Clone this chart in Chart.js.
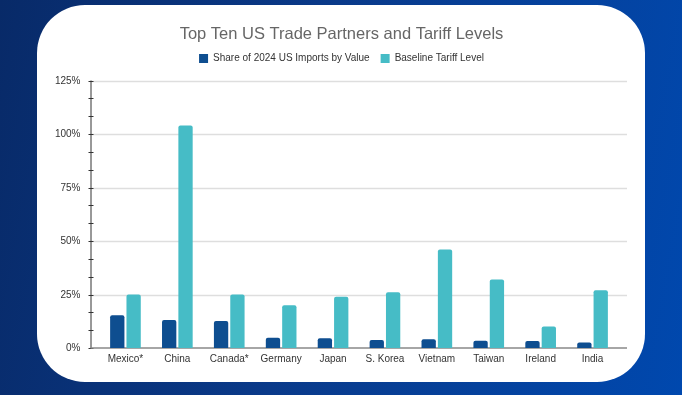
<!DOCTYPE html>
<html>
<head>
<meta charset="utf-8">
<script src="https://cdn.jsdelivr.net/npm/chart.js@4.4.1/dist/chart.umd.min.js"></script>
<style>
  html, body { margin: 0; padding: 0; }
  body {
    width: 682px; height: 395px; overflow: hidden; position: relative;
    background: linear-gradient(100deg, #082a68 0%, #0a3a8a 45%, #0048ae 100%);
  }
  #card {
    position: absolute; left: 37px; top: 5px; width: 608px; height: 377px;
    background: #fff; border-radius: 48px;
  }
  #wrap { position: absolute; left: 0; top: 0; width: 682px; height: 395px; }
</style>
</head>
<body>
<div id="card"></div>
<div id="wrap"><canvas id="tradeChart" width="682" height="395"></canvas></div>
<script>
var countries = ['Mexico*', 'China', 'Canada*', 'Germany', 'Japan', 'S. Korea', 'Vietnam', 'Taiwan', 'Ireland', 'India'];
var importShare = [15.3, 13.1, 12.6, 4.8, 4.5, 3.7, 4.1, 3.4, 3.3, 2.6];
var tariffLevel = [25, 104, 25, 20, 24, 26, 46, 32, 10, 27];
var yTicks = [0, 25, 50, 75, 100, 125];

var FONT = '"Liberation Sans", Arial, sans-serif';

// gridlines, y axis line, minor ticks and y labels, drawn a bit outside the bar area
var axisPlugin = {
  id: 'axisPlugin',
  beforeInit: function(chart) {
    var fit = chart.legend.fit;
    chart.legend.fit = function() {
      fit.call(this);
      this.height += 7;
    };
  },
  beforeDatasetsDraw: function(chart) {
    var c = chart.ctx, a = chart.chartArea, y = chart.scales.y;
    var x0 = a.left - 9, x1 = a.right + 8.5;
    c.save();
    yTicks.forEach(function(v) {
      var py = Math.round(y.getPixelForValue(v)) + 0.5;
      if (v !== 0) {
        c.strokeStyle = '#dedede';
        c.lineWidth = 1.3;
        c.beginPath(); c.moveTo(x0, py); c.lineTo(x1, py); c.stroke();
      }
      c.fillStyle = '#333';
      c.font = '10px ' + FONT;
      c.textAlign = 'right';
      c.textBaseline = 'middle';
      c.fillText(v + '%', x0 - 10, py);
    });
    var base = y.getPixelForValue(0);
    c.strokeStyle = '#333';
    c.lineWidth = 1;
    c.beginPath(); c.moveTo(x0 + 0.5, y.getPixelForValue(125)); c.lineTo(x0 + 0.5, base); c.stroke();
    for (var v = 0; v <= 125.01; v += 25 / 3) {
      var ty = Math.round(y.getPixelForValue(v)) + 0.5;
      c.beginPath(); c.moveTo(x0 - 2, ty); c.lineTo(x0 + 3, ty); c.stroke();
    }
    c.strokeStyle = '#888';
    c.lineWidth = 1.5;
    c.beginPath(); c.moveTo(x0, base); c.lineTo(x1, base); c.stroke();
    c.restore();
  }
};

var ctx = document.getElementById('tradeChart').getContext('2d');
var tradeChart = new Chart(ctx, {
  type: 'bar',
  data: {
    labels: countries,
    datasets: [{
      label: 'Share of 2024 US Imports by Value',
      data: importShare,
      backgroundColor: '#0e4e90',
      borderRadius: 2,
      categoryPercentage: 0.63,
      barPercentage: 0.875
    },
    {
      label: 'Baseline Tariff Level',
      data: tariffLevel,
      backgroundColor: '#46bcc6',
      borderRadius: 2,
      categoryPercentage: 0.63,
      barPercentage: 0.875
    }]
  },
  options: {
    responsive: false,
    animation: false,
    layout: { padding: { left: 64.5, right: 63.5, top: 6, bottom: 25 } },
    scales: {
      x: {
        grid: { display: false, drawTicks: false },
        border: { display: false },
        ticks: { color: '#333', font: { family: FONT, size: 10 }, padding: 5 }
      },
      y: {
        min: 0,
        max: 125,
        afterFit: function(scale) { scale.width = 35; },
        grid: { display: false, drawTicks: false },
        border: { display: false },
        ticks: { display: false, stepSize: 25 }
      }
    },
    plugins: {
      title: {
        display: true,
        text: 'Top Ten US Trade Partners and Tariff Levels',
        color: '#666',
        font: { family: FONT, size: 16.5, weight: 'normal', lineHeight: 1 },
        padding: { top: 20, bottom: 0 }
      },
      legend: {
        position: 'top',
        labels: {
          boxWidth: 9,
          boxHeight: 9,
          padding: 11,
          color: '#333',
          font: { family: FONT, size: 10 }
        }
      },
      tooltip: { enabled: false }
    }
  },
  plugins: [axisPlugin]
});
</script>
</body>
</html>
